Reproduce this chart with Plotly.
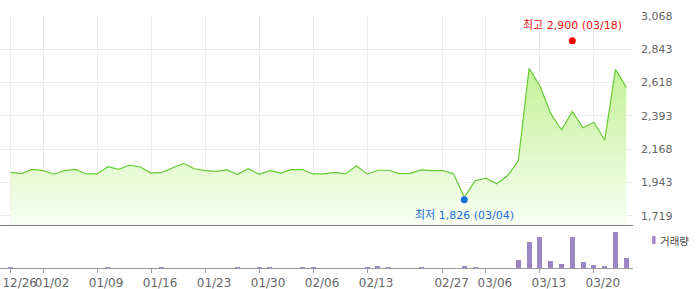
import plotly.graph_objects as go

dates = ["12/26", "12/27", "12/28", "01/02", "01/03", "01/04", "01/05", "01/08", "01/09", "01/10",
         "01/11", "01/12", "01/15", "01/16", "01/17", "01/18", "01/19", "01/22", "01/23", "01/24",
         "01/25", "01/26", "01/29", "01/30", "01/31", "02/01", "02/02", "02/05", "02/06", "02/07",
         "02/08", "02/09", "02/12", "02/13", "02/14", "02/15", "02/16", "02/19", "02/20", "02/26",
         "02/27", "02/28", "03/04", "03/05", "03/06", "03/07", "03/08", "03/11", "03/12", "03/13",
         "03/14", "03/15", "03/18", "03/19", "03/20", "03/21", "03/22", "03/25"]

close = [2012, 2003, 2032, 2023, 1999, 2023, 2032, 2001, 2001, 2050,
         2032, 2061, 2048, 2007, 2012, 2043, 2073, 2036, 2023, 2019,
         2028, 1999, 2036, 1999, 2023, 2007, 2030, 2031, 2001, 2001,
         2012, 2001, 2057, 2001, 2026, 2026, 2003, 2005, 2028, 2023,
         2023, 2003, 1843, 1955, 1972, 1935, 1989, 2090, 2715, 2595,
         2411, 2298, 2422, 2313, 2350, 2230, 2708, 2586]

volume = [10000, 0, 0, 0, 0, 0, 0, 0, 0, 10000,
          0, 0, 0, 0, 10000, 0, 0, 0, 0, 0,
          0, 10000, 0, 10000, 10000, 0, 0, 10000, 10000, 0,
          0, 0, 0, 15000, 22000, 12000, 0, 0, 12000, 0,
          0, 0, 20000, 12000, 0, 0, 0, 83000, 260000, 310000,
          73000, 40000, 310000, 60000, 30000, 20000, 363000, 100000]

tick_dates = ["12/26", "01/02", "01/09", "01/16", "01/23", "01/30", "02/06",
              "02/13", "02/27", "03/06", "03/13", "03/20"]

price_ticks = [1719, 1943, 2168, 2393, 2618, 2843, 3068]
price_tick_text = ["1,719", "1,943", "2,168", "2,393", "2,618", "2,843", "3,068"]

high_date, high_value = "03/18", 2900
low_date, low_value = "03/04", 1826

price_range = [1654, 3068]
volume_range = [0, 420000]
x_range = [-0.991, 57.62]

label_font = "DejaVu Sans, Noto Sans CJK KR"

fig = go.Figure()

fig.add_trace(go.Scatter(
    x=dates, y=close, xaxis="x2", yaxis="y2", mode="lines",
    line=dict(color="#66cc33", width=1.2),
    fill="tozeroy",
    fillgradient=dict(type="vertical", start=price_range[0], stop=2720,
                      colorscale=[[0, "rgb(248,254,243)"], [1, "rgb(194,242,150)"]]),
    hoverinfo="skip", showlegend=False,
))

fig.add_trace(go.Scatter(
    x=[high_date], y=[high_value], xaxis="x2", yaxis="y2", mode="markers",
    marker=dict(color="#ff0000", size=7), showlegend=False, hoverinfo="skip",
))
fig.add_trace(go.Scatter(
    x=[low_date], y=[low_value], xaxis="x2", yaxis="y2", mode="markers",
    marker=dict(color="#1a6fe0", size=7), showlegend=False, hoverinfo="skip",
))

fig.add_trace(go.Bar(
    x=dates, y=volume, xaxis="x", yaxis="y", width=0.46,
    marker=dict(color="#9b87c6", line=dict(width=0)),
    showlegend=False, hoverinfo="skip",
))

fig.add_annotation(
    x=high_date, y=high_value, xref="x2", yref="y2",
    text=f"최고 {high_value:,} ({high_date})", showarrow=False,
    yshift=15, font=dict(family=label_font, size=11, color="#ee1111"),
)
fig.add_annotation(
    x=low_date, y=low_value, xref="x2", yref="y2",
    text=f"최저 {low_value:,} ({low_date})", showarrow=False,
    yshift=-16, font=dict(family=label_font, size=11, color="#1a6ed8"),
)

# volume legend
fig.add_shape(type="rect", xref="paper", yref="paper",
              x0=1.0302, x1=1.0355, y0=0.0952, y1=0.127,
              fillcolor="#9b87c6", line=dict(width=0))
fig.add_annotation(
    xref="paper", yref="paper", x=1.0395, y=0.111, xanchor="left", yanchor="middle",
    text="거래량", showarrow=False,
    font=dict(family="Noto Sans CJK KR", size=10.5, color="#444444"),
)

fig.update_layout(
    width=700, height=289,
    margin=dict(l=0, r=67, t=16, b=21, autoexpand=False),
    paper_bgcolor="white", plot_bgcolor="white",
    bargap=0,
    xaxis=dict(
        type="category", domain=[0, 1], anchor="y", range=x_range,
        tickmode="array", tickvals=tick_dates, tickangle=0, automargin=False,
        ticks="outside", ticklen=4, tickcolor="#999999", tickwidth=1,
        showline=True, linecolor="#999999", linewidth=1,
        showgrid=False, zeroline=False, ticklabelshift=9,
        tickfont=dict(family="DejaVu Sans", size=12, color="#666666"),
    ),
    xaxis2=dict(
        type="category", domain=[0, 1], anchor="y2", matches="x", range=x_range,
        tickmode="array", tickvals=tick_dates, showticklabels=False, ticks="",
        showgrid=True, gridcolor="#ececec", gridwidth=1, automargin=False,
        showline=True, linecolor="#7a7f88", linewidth=1, zeroline=False,
    ),
    yaxis=dict(
        domain=[0, 0.1667], range=volume_range, showticklabels=False,
        showgrid=False, zeroline=False, ticks="", automargin=False,
    ),
    yaxis2=dict(
        domain=[0.1694, 1], range=price_range, side="right", anchor="x2",
        tickmode="array", tickvals=price_ticks, ticktext=price_tick_text,
        showgrid=True, gridcolor="#ececec", gridwidth=1, zeroline=False,
        ticks="", ticklabelstandoff=7, automargin=False,
        tickfont=dict(family="DejaVu Sans", size=11, color="#666666"),
    ),
)

fig.write_html("out.html")
